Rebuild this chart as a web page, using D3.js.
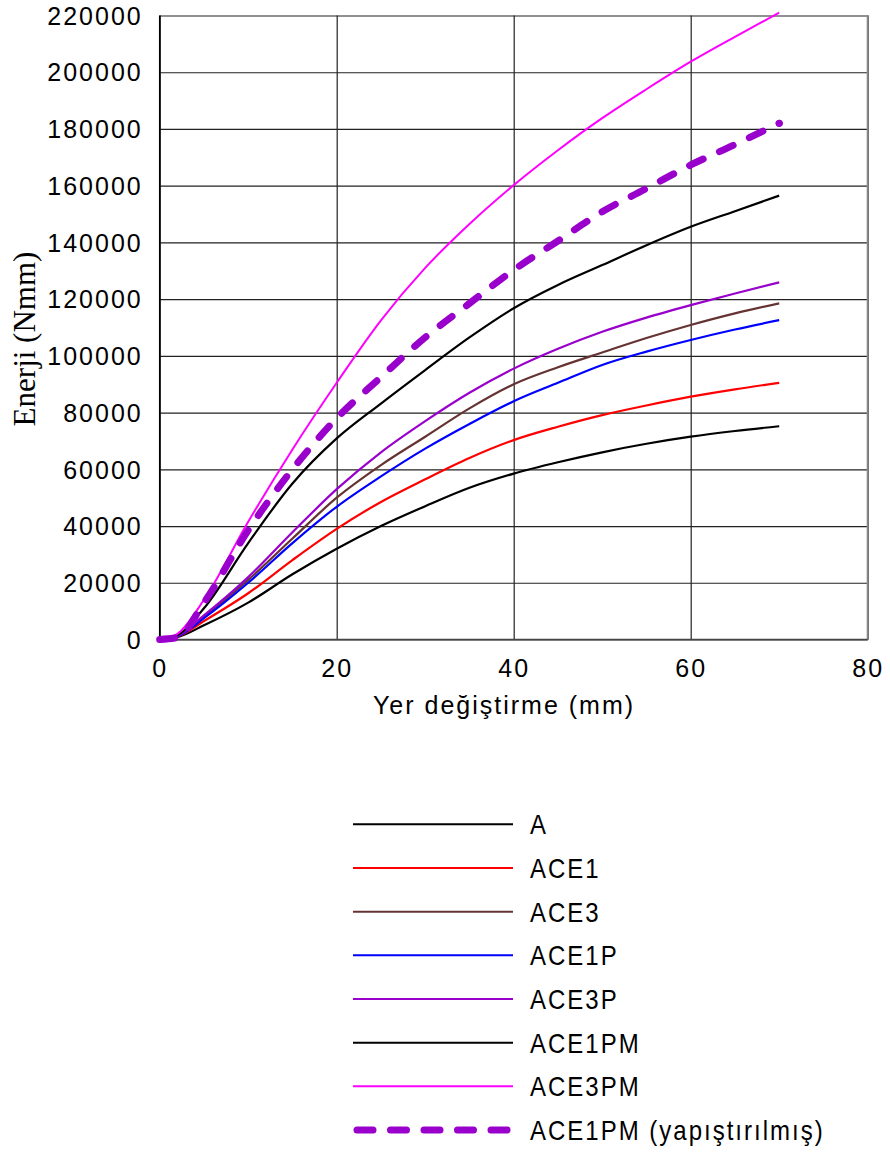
<!DOCTYPE html>
<html>
<head>
<meta charset="utf-8">
<script src="https://cdn.jsdelivr.net/npm/d3@7"></script>
<style>
  body { margin: 0; background: #fff; }
  svg { display: block; }
  .tick text { font-family: "Liberation Sans", Arial, sans-serif; font-size: 25px; letter-spacing: 2px; fill: #000; }
  .legend text { font-family: "Liberation Sans", Arial, sans-serif; font-size: 24px; letter-spacing: 2px; fill: #000; }
</style>
</head>
<body>
<svg id="chart" width="890" height="1155"></svg>
<script>
// displacement (mm) at which the energies were read
var xValues = [0, 2, 5, 10, 15, 20, 25, 30, 35, 40, 45, 50, 55, 60, 65, 70];

// energy (Nmm) per specimen
var seriesA      = [0, 800, 5000, 13000, 23000, 32000, 40000, 47000, 53500, 58500, 62500, 66000, 69000, 71500, 73500, 75200];
var seriesACE1   = [0, 1000, 6500, 16300, 28000, 39000, 48500, 56500, 64000, 70300, 75000, 79100, 82500, 85600, 88200, 90500];
var seriesACE3   = [0, 1200, 8000, 21000, 35600, 50000, 61500, 71500, 81500, 90000, 96000, 101200, 106300, 110900, 115000, 118500];
var seriesACE1P  = [0, 1100, 7500, 20000, 34000, 46800, 57500, 67300, 76000, 84000, 90500, 96800, 101500, 105600, 109300, 112600];
var seriesACE3P  = [0, 1300, 8500, 22000, 37800, 53000, 66000, 77000, 87000, 95500, 102500, 108500, 113500, 117900, 122000, 125900];
var seriesACE1PM = [0, 1500, 11000, 34000, 55000, 70900, 83200, 95000, 106500, 116800, 125000, 132000, 139000, 145500, 151000, 156500];
var seriesACE3PM = [0, 2000, 14000, 41500, 67000, 90500, 112500, 131000, 146500, 160200, 172500, 183800, 194000, 203700, 212500, 221000];
var seriesACE1PMy = [0, 700, 13000, 38500, 60000, 78000, 92500, 106500, 118500, 130300, 140500, 150800, 159000, 167300, 174500, 182000];

var seriesNames = ["A", "ACE1", "ACE3", "ACE1P", "ACE3P", "ACE1PM", "ACE3PM", "ACE1PM (yapıştırılmış)"];

var xTicks = [0, 20, 40, 60, 80];
var yTicks = [0, 20000, 40000, 60000, 80000, 100000, 120000, 140000, 160000, 180000, 200000, 220000];

var styles = [
    { color: "#000000", width: 2.2 },
    { color: "#ff0000", width: 2.2 },
    { color: "#663333", width: 2.2 },
    { color: "#0000ff", width: 2.2 },
    { color: "#9900cc", width: 2.2 },
    { color: "#000000", width: 2.2 },
    { color: "#ff00ff", width: 2 },
    { color: "#9900cc", width: 7, dash: "15,18" }
];

var allSeries = [seriesA, seriesACE1, seriesACE3, seriesACE1P, seriesACE3P, seriesACE1PM, seriesACE3PM, seriesACE1PMy];

var margin = { top: 15.5, left: 159.7 };
var width = 708;
var height = 624;

var svg = d3.select("#chart");
var g = svg.append("g").attr("transform", "translate(" + margin.left + "," + margin.top + ")");

var x = d3.scaleLinear().domain([0, 80]).range([0, width]);
var y = d3.scaleLinear().domain([0, 220000]).range([height, 0]);

// grid + y labels
var yAxis = g.append("g")
    .call(d3.axisLeft(y).tickValues(yTicks).tickSize(-width).tickPadding(17).tickFormat(d3.format("d")));
yAxis.select(".domain").remove();
yAxis.selectAll(".tick line").attr("stroke", "#222").attr("stroke-width", 1.2);
yAxis.selectAll(".tick text").attr("dy", "0.35em");

var xAxis = g.append("g")
    .attr("transform", "translate(0," + height + ")")
    .call(d3.axisBottom(x).tickValues(xTicks).tickSize(-height).tickPadding(20).tickFormat(d3.format("d")));
xAxis.select(".domain").remove();
xAxis.selectAll(".tick line").attr("stroke", "#222").attr("stroke-width", 1.2);
xAxis.selectAll(".tick text").attr("dy", "0.71em");

// frame
g.append("line").attr("x1", 0).attr("x2", 0).attr("y1", 0).attr("y2", height).attr("stroke", "#000").attr("stroke-width", 1.5);
g.append("line").attr("x1", width).attr("x2", width).attr("y1", 0).attr("y2", height).attr("stroke", "#888").attr("stroke-width", 2);
g.append("line").attr("x1", 0).attr("x2", width).attr("y1", height).attr("y2", height).attr("stroke", "#444").attr("stroke-width", 1.5);

// curves
var line = d3.line()
    .x(function(d) { return x(d[0]); })
    .y(function(d) { return y(d[1]); })
    .curve(d3.curveMonotoneX);

allSeries.forEach(function(s, i) {
    var pts = xValues.map(function(v, j) { return [v, s[j]]; });
    var p = g.append("path")
        .datum(pts)
        .attr("fill", "none")
        .attr("stroke", styles[i].color)
        .attr("stroke-width", styles[i].width)
        .attr("d", line);
    if (styles[i].dash) {
        p.attr("stroke-dasharray", styles[i].dash).attr("stroke-linecap", "round");
        var last = pts[pts.length - 1];
        g.append("circle").attr("cx", x(last[0])).attr("cy", y(last[1])).attr("r", 3.5).attr("fill", styles[i].color);
    }
});

// axis titles
svg.append("text")
    .attr("x", 504).attr("y", 714)
    .attr("text-anchor", "middle")
    .style("font-family", "'Liberation Sans', Arial, sans-serif")
    .style("font-size", "25px")
    .style("letter-spacing", "2px")
    .text("Yer değiştirme (mm)");

svg.append("text")
    .attr("transform", "translate(35,339) rotate(-90)")
    .attr("text-anchor", "middle")
    .style("font-family", "'Liberation Serif', 'Times New Roman', serif")
    .style("font-size", "31px")
    .text("Enerji (Nmm)");

// legend
var legend = svg.append("g").attr("class", "legend");
var rowY = d3.scaleLinear().domain([0, 7]).range([824.3, 1130]);
seriesNames.forEach(function(name, i) {
    var yy = rowY(i);
    var l = legend.append("line")
        .attr("x1", 353).attr("x2", 513)
        .attr("y1", yy).attr("y2", yy)
        .attr("stroke", styles[i].color)
        .attr("stroke-width", styles[i].dash ? 7 : 2);
    if (styles[i].dash) {
        l.attr("x1", 357).attr("x2", 510).attr("stroke-dasharray", "16,17.5").attr("stroke-linecap", "round");
    }
    legend.append("text")
        .attr("transform", "translate(530," + yy + ") scale(1,1.15)")
        .attr("dy", "0.36em")
        .text(name);
});
</script>
</body>
</html>
